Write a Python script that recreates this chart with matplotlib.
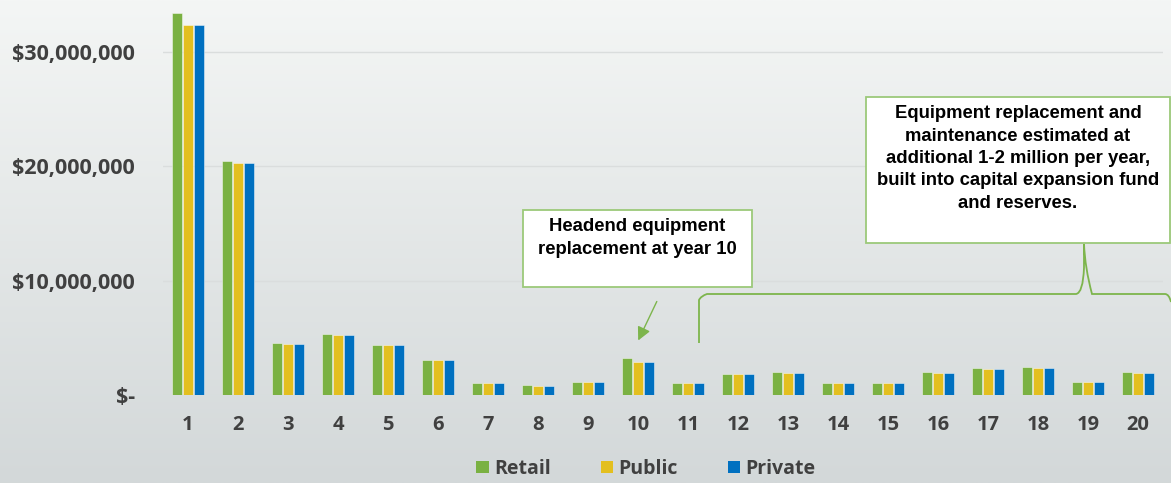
import numpy as np
import matplotlib
matplotlib.use("Agg")
import matplotlib.pyplot as plt
from matplotlib.patches import Rectangle, Patch, PathPatch, FancyArrowPatch
from matplotlib.path import Path
from matplotlib.transforms import Affine2D
from matplotlib.ticker import FixedLocator

# ---- data ----
years = [str(i) for i in range(1, 21)]
retail = [33.4, 20.5, 4.6, 5.38, 4.42, 3.05, 1.05, 0.87, 1.13, 3.3,
          1.05, 1.86, 2.05, 1.05, 1.05, 2.05, 2.35, 2.44, 1.13, 2.05]
public = [32.35, 20.3, 4.5, 5.29, 4.4, 3.05, 1.05, 0.82, 1.13, 2.94,
          1.05, 1.83, 1.98, 1.05, 1.05, 1.98, 2.29, 2.41, 1.13, 1.98]
private = [32.35, 20.3, 4.5, 5.29, 4.4, 3.05, 1.05, 0.82, 1.13, 2.94,
           1.05, 1.83, 1.98, 1.05, 1.05, 1.98, 2.32, 2.41, 1.13, 1.98]
series_names = ["Retail", "Public", "Private"]
series_colors = ["#7AB142", "#E3BF1F", "#0070C0"]
ytick_values = [0, 10_000_000, 20_000_000, 30_000_000]
ytick_labels = ["$-", "$10,000,000", "$20,000,000", "$30,000,000"]
note1 = "Headend equipment\nreplacement at year 10"
note2 = ("Equipment replacement and\nmaintenance estimated at\n"
         "additional 1-2 million per year,\nbuilt into capital expansion fund\nand reserves.")

W, H = 1171, 483
fig = plt.figure(figsize=(W / 100, H / 100), dpi=100)

# pixel transform (top-left origin)
PX = Affine2D().scale(1 / W, -1 / H).translate(0, 1) + fig.transFigure

# background gradient
bg = fig.add_axes([0, 0, 1, 1], zorder=-10)
top = np.array([0xF4, 0xF6, 0xF5]) / 255
bot = np.array([0xD3, 0xD8, 0xD9]) / 255
t = np.linspace(0, 1, 256)[:, None]
grad = top[None, :] * (1 - t) + bot[None, :] * t
bg.imshow(grad[:, None, :].repeat(2, axis=1), aspect="auto", extent=[0, 1, 0, 1])
bg.set_axis_off()

ax = fig.add_axes([163 / W, (H - 395.3) / H, 1000 / W, 395.3 / H])
ax.set_facecolor("none")
x = np.arange(1, 21)
scale = 1e6
bw = 0.19
pitch = 0.22
for i, (vals, c, name) in enumerate(zip([retail, public, private], series_colors, series_names)):
    ax.bar(x + (i - 1) * pitch, np.array(vals) * scale, width=bw, color=c,
           edgecolor=(1, 1, 1, 0.45), linewidth=0.7, label=name, zorder=3)

ax.set_xlim(0.5, 20.5)
ax.set_ylim(0, 34.52e6)
ax.yaxis.set_major_locator(FixedLocator(ytick_values))
ax.set_yticklabels(ytick_labels)
ax.set_xticks(x)
ax.set_xticklabels(years)
for s in ax.spines.values():
    s.set_visible(False)
ax.grid(axis="y", color="#DADDDD", linewidth=1.0, zorder=0)
ax.tick_params(axis="both", length=0, colors="#404040")
ax.tick_params(axis="y", pad=20)
ax.tick_params(axis="x", pad=14)
for lab in ax.get_yticklabels():
    lab.set_fontfamily("Open Sans")
    lab.set_fontweight("bold")
    lab.set_fontsize(15.5)
    lab.set_color("#404040")
for lab in ax.get_xticklabels():
    lab.set_fontfamily("Open Sans")
    lab.set_fontweight("bold")
    lab.set_fontsize(14.5)
    lab.set_color("#404040")

# legend
handles = [Patch(facecolor=c, edgecolor="none") for c in series_colors]
fig.legend(handles, series_names, loc="center", bbox_to_anchor=(646 / W, 1 - 469 / H),
           ncol=3, frameon=False, handlelength=0.62, handleheight=0.62,
           handletextpad=0.3, columnspacing=2.55,
           prop={"family": "Open Sans", "weight": "bold", "size": 14},
           labelcolor="#404040")

green_line = "#7DB54C"
box_edge = "#9CC97A"

# annotation box 1
fig.patches.append(Rectangle((523, 210), 229, 77, transform=PX, facecolor="white",
                             edgecolor=box_edge, linewidth=1.3, zorder=5))
fig.text(637.5, 238, note1, transform=PX, ha="center", va="center",
         family="Liberation Sans", weight="bold", fontsize=13.3, linespacing=1.42,
         color="black", zorder=6)

# annotation box 2
fig.patches.append(Rectangle((866, 97), 304, 146, transform=PX, facecolor="white",
                             edgecolor=box_edge, linewidth=1.3, zorder=5))
fig.text(1018, 158.5, note2, transform=PX, ha="center", va="center",
         family="Liberation Sans", weight="bold", fontsize=13.3, linespacing=1.42,
         color="black", zorder=6)

# arrow
fig.patches.append(FancyArrowPatch((658, 299), (637, 343), transform=PX,
                                   arrowstyle="-|>,head_length=0.8,head_width=0.4",
                                   mutation_scale=10, color=green_line, linewidth=1.0,
                                   zorder=5))

# brace
verts = [(699, 343), (699, 300), (701, 296), (707, 294), (1076, 294),
         (1083, 293), (1084, 268), (1084, 244),
         (1084, 244), (1085, 268), (1092, 294), (1165, 294),
         (1169, 294), (1171, 302)]
codes = [Path.MOVETO, Path.LINETO, Path.CURVE3, Path.CURVE3, Path.LINETO,
         Path.CURVE3, Path.CURVE3, Path.LINETO,
         Path.MOVETO, Path.CURVE3, Path.CURVE3, Path.LINETO,
         Path.CURVE3, Path.CURVE3]
fig.patches.append(PathPatch(Path(verts, codes), transform=PX, facecolor="none",
                             edgecolor=green_line, linewidth=1.3, zorder=4))

fig.savefig("out.png", dpi=100)
